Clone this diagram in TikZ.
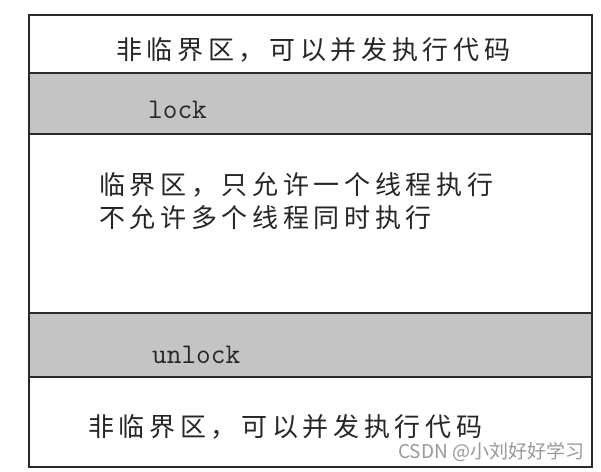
\documentclass[tikz,border=0pt]{standalone}
\usepackage{fontspec}
\newfontfamily\cjk[LetterSpace=18]{Noto Sans CJK SC}
\newfontfamily\wmfont{Noto Sans CJK SC}
\definecolor{bandgray}{HTML}{C4C4C4}
\definecolor{edgecol}{HTML}{2A2A2A}
\begin{document}
\begin{tikzpicture}[x=1pt,y=-1pt,
  cjktext/.style={anchor=west,inner sep=0pt,font=\cjk\fontsize{26}{30}\selectfont,text=black!85},
  codetext/.style={anchor=west,inner sep=0pt,font=\ttfamily\fontsize{28.5}{32}\selectfont,text=black!85},
  band/.style={fill=bandgray},
  rulel/.style={draw=edgecol,line width=2.4pt},
  wmtext/.style={anchor=west,inner sep=0pt,font=\wmfont\fontsize{19}{22}\selectfont,text=gray!80}]
\useasboundingbox[fill=white] (0,0) rectangle (601,471);
% bands
\fill[band] (29,73) rectangle (592,134);
\fill[band] (29,313) rectangle (592,377);
% separators
\coordinate (l1) at (29,73);  \coordinate (r1) at (592,73);
\coordinate (l2) at (29,134); \coordinate (r2) at (592,134);
\coordinate (l3) at (29,313); \coordinate (r3) at (592,313);
\coordinate (l4) at (29,377); \coordinate (r4) at (592,377);
\draw[rulel] (l1) -- (r1);
\draw[rulel] (l2) -- (r2);
\draw[rulel] (l3) -- (r3);
\draw[rulel] (l4) -- (r4);
% outer frame
\draw[rulel] (29,15) rectangle (592,467);
% texts
\node[cjktext] (toptext) at (116,50) {非临界区，可以并发执行代码};
\node[codetext] (lock) at (148,110) {lock};
\node[cjktext] (crit1) at (99,185) {临界区，只允许一个线程执行};
\node[cjktext] (crit2) at (99,218) {不允许多个线程同时执行};
\node[codetext] (unlock) at (152,355) {unlock};
\node[cjktext] (bottext) at (88,427) {非临界区，可以并发执行代码};
\node[wmtext] (wmark) at (398,452) {CSDN @小刘好好学习};
\end{tikzpicture}
\end{document}
